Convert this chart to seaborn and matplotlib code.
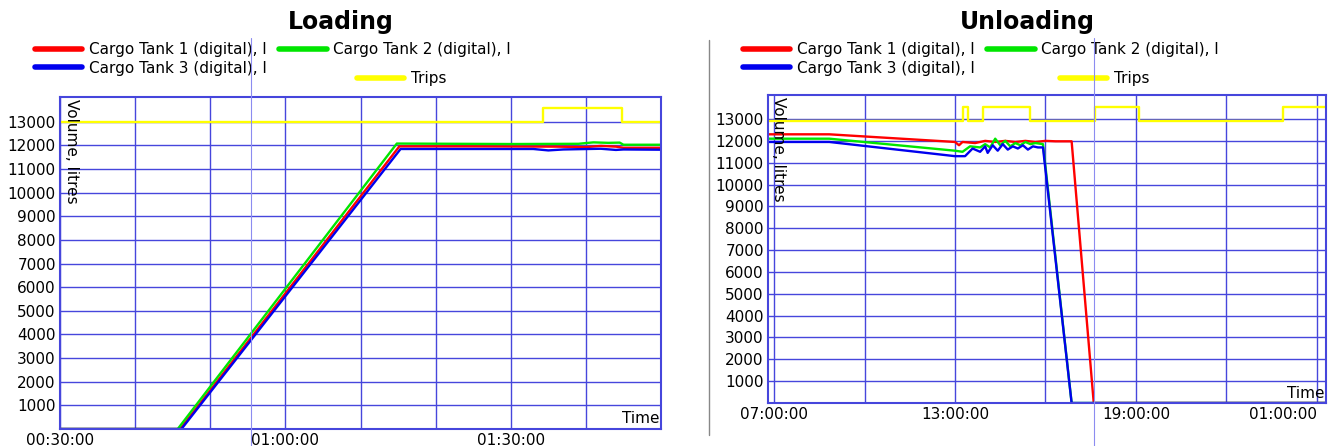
import pandas as pd
import matplotlib.pyplot as plt
import seaborn as sb
from matplotlib.lines import Line2D

# ---- Loading data (times on 2021-03-01) ----
load_t1_time = ["00:30:00", "00:46:00", "01:15:10", "01:25:00", "01:36:00", "01:40:00", "01:42:00",
                "01:44:00", "01:45:00", "01:50:00"]
load_t1_vol = [0, 0, 11960, 11960, 11950, 11930, 11980, 11950, 11900, 11900]
load_t2_time = ["00:30:00", "00:45:40", "01:14:50", "01:30:00", "01:39:00", "01:41:00", "01:43:00",
                "01:44:30", "01:45:00", "01:50:00"]
load_t2_vol = [0, 0, 12080, 12060, 12070, 12130, 12110, 12120, 12030, 12030]
load_t3_time = ["00:30:00", "00:46:10", "01:15:20", "01:33:00", "01:35:00", "01:37:00", "01:42:00",
                "01:44:00", "01:45:00", "01:50:00"]
load_t3_vol = [0, 0, 11850, 11850, 11790, 11830, 11860, 11810, 11830, 11820]
load_trips_time = ["00:30:00", "01:34:20", "01:34:20", "01:44:50", "01:44:50", "01:50:00"]
load_trips_val = [13000, 13000, 13600, 13600, 13000, 13000]

# ---- Unloading data (hours before 06:00 are on the next day) ----
unl_t1_time = ["06:48", "08:50", "13:00", "13:08", "13:15", "13:40", "14:00", "14:20", "14:40", "15:00",
               "15:20", "15:40", "16:00", "16:20", "16:52", "17:36", "01:18"]
unl_t1_vol = [12300, 12300, 11950, 11800, 11950, 11900, 12000, 11950, 12000, 11950,
              12000, 11950, 12000, 11980, 11980, 0, 0]
unl_t2_time = ["06:48", "08:50", "13:00", "13:15", "13:30", "13:50", "14:00", "14:10", "14:20", "14:30",
               "14:40", "14:50", "15:00", "15:10", "15:20", "15:30", "15:40", "15:55", "16:52", "01:18"]
unl_t2_vol = [12100, 12100, 11550, 11500, 11750, 11700, 11850, 11700, 12100, 11800,
              12000, 11750, 11900, 11800, 11950, 11850, 11900, 11850, 0, 0]
unl_t3_time = ["06:48", "08:50", "13:00", "13:20", "13:35", "13:50", "14:00", "14:05", "14:15", "14:25",
               "14:35", "14:45", "14:55", "15:05", "15:15", "15:25", "15:35", "15:45", "15:55", "16:52",
               "01:18"]
unl_t3_vol = [11950, 11950, 11300, 11300, 11650, 11500, 11750, 11450, 11800, 11550,
              11850, 11600, 11750, 11650, 11800, 11600, 11750, 11700, 11700, 0, 0]
unl_trips_time = ["06:48", "13:15", "13:15", "13:25", "13:25", "13:55", "13:55", "15:30", "15:30",
                  "17:38", "17:38", "19:07", "19:07", "23:53", "23:53", "01:18"]
unl_trips_val = [12920, 12920, 13570, 13570, 12920, 12920, 13570, 13570, 12920,
                 12920, 13570, 13570, 12920, 12920, 13570, 13570]

names = ["Cargo Tank 1 (digital), l", "Cargo Tank 2 (digital), l", "Cargo Tank 3 (digital), l", "Trips"]
colors = {names[0]: "#ff0000", names[1]: "#00e600", names[2]: "#0000ee", names[3]: "#ffff00"}
grid_col = "#4646dc"


def to_dt(times, next_day=False):
    out = []
    for t in times:
        ts = pd.Timestamp("2021-03-01 " + t)
        if next_day and ts.hour < 6:
            ts = ts + pd.Timedelta(days=1)
        out.append(ts)
    return out


def build(series, next_day):
    frames = []
    for name, (tt, vv) in zip(names, series):
        frames.append(pd.DataFrame({"time": to_dt(tt, next_day), "volume": vv, "series": name}))
    return pd.concat(frames, ignore_index=True)


df_load = build([(load_t1_time, load_t1_vol), (load_t2_time, load_t2_vol),
                 (load_t3_time, load_t3_vol), (load_trips_time, load_trips_val)], False)
df_unl = build([(unl_t1_time, unl_t1_vol), (unl_t2_time, unl_t2_vol),
                (unl_t3_time, unl_t3_vol), (unl_trips_time, unl_trips_val)], True)

sb.set_style("white")
plt.rcParams["font.family"] = ["DejaVu Sans"]
plt.rcParams["text.color"] = "black"
plt.rcParams["xtick.color"] = "black"
plt.rcParams["ytick.color"] = "black"

fig = plt.figure(figsize=(13.34, 4.46), dpi=100)
ax1 = fig.add_axes([0.045, 0.0381, 0.4505, 0.7444])
ax2 = fig.add_axes([0.5757, 0.0964, 0.4183, 0.6906])


def style_axes(ax, ymax, ticks, ticklabels):
    ax.set_ylim(0, ymax)
    ax.set_yticks(range(1000, 14000, 1000))
    ax.set_yticklabels([str(v) for v in range(1000, 14000, 1000)], fontsize=11)
    ax.set_xticks(ticks)
    ax.set_xticklabels(ticklabels, fontsize=11)
    ax.tick_params(length=0, pad=3, colors="black")
    ax.grid(True, color=grid_col, lw=1)
    for s in ax.spines.values():
        s.set_color(grid_col)
        s.set_linewidth(1.5)
    ax.set_xlabel("")
    ax.set_ylabel("")
    ax.text(0.006, 0.995, "Volume, litres", rotation=270, ha="left", va="top",
            transform=ax.transAxes, fontsize=11)
    ax.text(0.997, 0.008, "Time", ha="right", va="bottom", transform=ax.transAxes, fontsize=11)


for ax, df in [(ax1, df_load), (ax2, df_unl)]:
    sb.lineplot(data=df, x="time", y="volume", hue="series", palette=colors, estimator=None,
                sort=False, lw=1.7, legend=False, ax=ax)

# Loading axes
ticks1 = pd.date_range("2021-03-01 00:30", "2021-03-01 01:50", freq="10min")
labels1 = [t.strftime("%H:%M:%S") if t.minute in (0, 30) else "" for t in ticks1]
style_axes(ax1, 14050, ticks1, labels1)
ax1.set_xlim(pd.Timestamp("2021-03-01 00:30"), pd.Timestamp("2021-03-01 01:50"))

# Unloading axes
ticks2 = pd.date_range("2021-03-01 07:00", "2021-03-02 01:00", freq="3h")
labels2 = [t.strftime("%H:%M:%S") if t.hour % 6 == 1 else "" for t in ticks2]
style_axes(ax2, 14100, ticks2, labels2)
ax2.set_xlim(pd.Timestamp("2021-03-01 06:48"), pd.Timestamp("2021-03-02 01:18"))
ax2.get_xticklabels()[-1].set_ha("right")

# Titles
fig.text(341 / 1334, 1 - 22 / 446, "Loading", ha="center", va="center", fontsize=17, fontweight="bold")
fig.text(1027 / 1334, 1 - 22 / 446, "Unloading", ha="center", va="center", fontsize=17, fontweight="bold")

# Legends
handles = {n: Line2D([], [], color=colors[n], lw=4, label=n) for n in names}
leg_kw = dict(loc="upper left", bbox_transform=fig.transFigure, frameon=False, borderpad=0,
              borderaxespad=0, handlelength=3.1, handletextpad=0.45, columnspacing=0.8,
              labelspacing=0.25, fontsize=11, labelcolor="black")
for ax, x_main, x_trips in [(ax1, 35 / 1334, 357 / 1334), (ax2, 743 / 1334, 1060 / 1334)]:
    leg = ax.legend(handles=[handles[names[0]], handles[names[2]], handles[names[1]]], ncol=2,
                    bbox_to_anchor=(x_main, 0.906), **leg_kw)
    ax.add_artist(leg)
    ax.legend(handles=[handles[names[3]]], bbox_to_anchor=(x_trips, 0.841), **leg_kw)

# screenshot cursor lines and panel border
fig.add_artist(Line2D([251 / 1334] * 2, [0, 1 - 38 / 446], transform=fig.transFigure, color="#8c8cf0", lw=0.8))
fig.add_artist(Line2D([1094 / 1334] * 2, [0, 1 - 38 / 446], transform=fig.transFigure, color="#8c8cf0", lw=0.8))
fig.add_artist(Line2D([709 / 1334] * 2, [1 - 435 / 446, 1 - 40 / 446], transform=fig.transFigure, color="#888888", lw=1))

fig.savefig("out.png", dpi=100)
